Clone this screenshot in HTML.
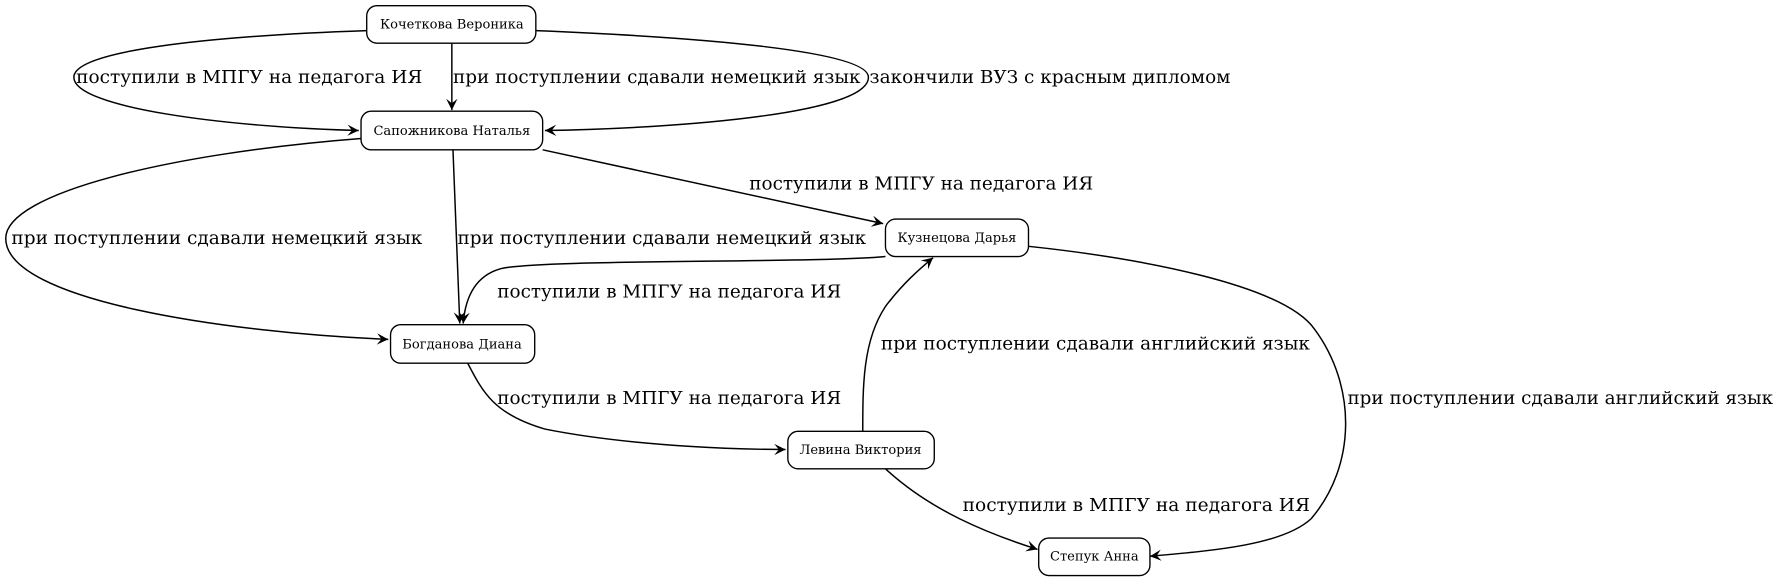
<!DOCTYPE html>
<html><head><meta charset="utf-8"><style>
html,body{margin:0;padding:0;background:#fff;width:1780px;height:583px;overflow:hidden}
svg{display:block}
.n{fill:#fff;stroke:#000;stroke-width:1.2}
.e{fill:none;stroke:#000;stroke-width:1.3}
.nt{font-family:"DejaVu Serif","Liberation Serif",serif;font-size:11.5px;text-anchor:middle}
.lt{font-family:"DejaVu Serif","Liberation Serif",serif;font-size:16px}
</style></head><body>
<svg width="1780" height="583" viewBox="0 0 1568 513.6" xmlns="http://www.w3.org/2000/svg">
<defs><marker id="a" markerWidth="12" markerHeight="10" refX="10" refY="5" orient="auto" markerUnits="userSpaceOnUse"><path d="M0,0 L10,5 L0,10 L4,5 Z" fill="#000"/></marker></defs>
<g class="e" marker-end="url(#a)">
<path d="M323,27 C180,32 65,45 65,68 C65,95 200,112 316,115"/>
<path d="M398,38 L398,97"/>
<path d="M472,27 C620,33 765,45 765,68 C765,100 600,113 480,115"/>
<path d="M318,122 C150,135 5,170 5,210 C5,265 200,293 342,299"/>
<path d="M399,132 L405,285"/>
<path d="M478,132 L778,197"/>
<path d="M780,226 C720,232 470,228 440,237 C420,243 410,260 408,285"/>
<path d="M412,320 C425,345 435,365 480,378 C560,394 660,396 692,396"/>
<path d="M760,380 C760,340 760,300 780,270 C795,250 810,237 822,227"/>
<path d="M780,413 C820,450 870,470 914,484"/>
<path d="M906,217 C1000,227 1130,250 1158,290 C1195,340 1195,410 1155,457 C1130,480 1070,485 1013,490"/>
</g>
<rect class="n" x="323" y="5" width="149" height="33" rx="9"/>
<rect class="n" x="318" y="98" width="160" height="34" rx="9"/>
<rect class="n" x="780" y="193" width="126" height="33" rx="9"/>
<rect class="n" x="344" y="286" width="127" height="34" rx="9"/>
<rect class="n" x="694" y="380" width="129" height="33" rx="9"/>
<rect class="n" x="915" y="474" width="98" height="33" rx="9"/>
<text class="nt" x="398" y="25">Кочеткова Вероника</text>
<text class="nt" x="398" y="119">Сапожникова Наталья</text>
<text class="nt" x="843" y="213">Кузнецова Дарья</text>
<text class="nt" x="407" y="307">Богданова Диана</text>
<text class="nt" x="758" y="400">Левина Виктория</text>
<text class="nt" x="964" y="494">Степук Анна</text>
<g class="lt">
<text x="67" y="73" textLength="305" lengthAdjust="spacingAndGlyphs">поступили в МПГУ на педагога ИЯ</text>
<text x="399" y="73" textLength="359" lengthAdjust="spacingAndGlyphs">при поступлении сдавали немецкий язык</text>
<text x="766" y="73" textLength="318" lengthAdjust="spacingAndGlyphs">закончили ВУЗ с красным дипломом</text>
<text x="660" y="167" textLength="303" lengthAdjust="spacingAndGlyphs">поступили в МПГУ на педагога ИЯ</text>
<text x="10" y="215" textLength="362" lengthAdjust="spacingAndGlyphs">при поступлении сдавали немецкий язык</text>
<text x="403" y="215" textLength="360" lengthAdjust="spacingAndGlyphs">при поступлении сдавали немецкий язык</text>
<text x="438" y="262" textLength="303" lengthAdjust="spacingAndGlyphs">поступили в МПГУ на педагога ИЯ</text>
<text x="776" y="308" textLength="378" lengthAdjust="spacingAndGlyphs">при поступлении сдавали английский язык</text>
<text x="438" y="356" textLength="303" lengthAdjust="spacingAndGlyphs">поступили в МПГУ на педагога ИЯ</text>
<text x="1187" y="356" textLength="375" lengthAdjust="spacingAndGlyphs">при поступлении сдавали английский язык</text>
<text x="848" y="450" textLength="306" lengthAdjust="spacingAndGlyphs">поступили в МПГУ на педагога ИЯ</text>
</g>
</svg>
</body></html>
